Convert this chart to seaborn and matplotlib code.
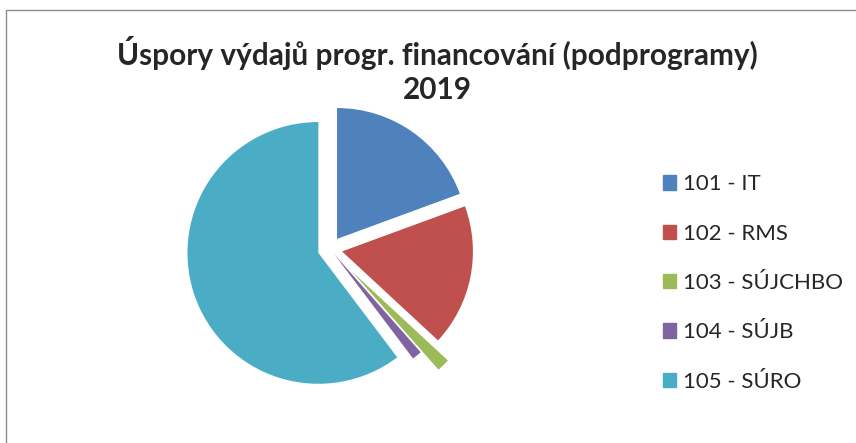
import matplotlib
matplotlib.use("Agg")
import matplotlib.pyplot as plt
import matplotlib.patches as mpatches
import seaborn as sns

# Data (shares in %)
labels = ['101 - IT', '102 - RMS', '103 - SÚJCHBO', '104 - SÚJB', '105 - SÚRO']
shares = [19.4, 17.5, 1.6, 1.2, 60.3]
colors = ['#4F81BD', '#C0504D', '#9BBB59', '#8064A2', '#4BACC6']
explode = [0.094, 0.094, 0.24, 0.05, 0.094]

sns.set_theme(style="white")
plt.rcParams['font.family'] = ['Lato', 'DejaVu Sans']

W, H = 856, 443
fig = plt.figure(figsize=(W / 100, H / 100), dpi=100)

# pie axes: centre ~ (330, 249) px, radius ~131 px
cx, cy, size = 330, 249, 301
ax = fig.add_axes([(cx - size / 2) / W, (H - cy - size / 2) / H, size / W, size / H])
ax.pie(shares, colors=colors, startangle=90, counterclock=False,
       explode=explode, radius=1.0, wedgeprops=dict(linewidth=0))
ax.set_xlim(-1.15, 1.15)
ax.set_ylim(-1.15, 1.15)
ax.set_aspect('equal')
ax.axis('off')

# title
fig.text(437 / W, 1 - 53 / H, 'Úspory výdajů progr. financování (podprogramy)',
         ha='center', va='center', fontsize=21.4, fontweight='bold')
fig.text(437 / W, 1 - 90 / H, '2019', ha='center', va='center',
         fontsize=21.4, fontweight='bold')

# legend
handles = [mpatches.Patch(color=c, label=l) for c, l in zip(colors, labels)]
fig.legend(handles=handles, loc='center left', bbox_to_anchor=(643 / W, 1 - 283 / H),
           frameon=False, fontsize=16, handlelength=0.6, handleheight=0.6,
           handletextpad=0.3, labelspacing=1.32)

# chart frame
fig.add_artist(mpatches.Rectangle((6 / W, -0.01), 2, 1 - 10 / H + 0.01,
                                  transform=fig.transFigure, fill=False,
                                  edgecolor='#8c8c8c', linewidth=1))

fig.savefig('out.png', dpi=100)
